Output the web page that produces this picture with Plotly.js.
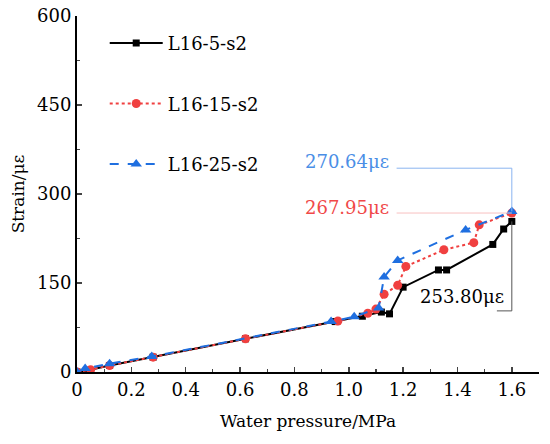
<!DOCTYPE html>
<html>
<head>
<meta charset="utf-8">
<script src="https://cdn.plot.ly/plotly-3.0.1.min.js"></script>
<style>html,body{margin:0;padding:0;background:#fff;}#chart{width:550px;height:444px;}</style>
</head>
<body>
<div id="chart"></div>
<script>
var seriesNames = ["L16-5-s2", "L16-15-s2", "L16-25-s2"];

var pressure5 = [0, 0.04, 0.12, 0.28, 0.62, 0.95, 1.05, 1.12, 1.15, 1.20, 1.33, 1.36, 1.53, 1.57, 1.60];
var strain5   = [0, 3, 11, 25, 56, 85, 94, 101, 98, 143, 172, 172, 215, 241, 253.80];

var pressure15 = [0, 0.05, 0.12, 0.28, 0.62, 0.96, 1.07, 1.10, 1.13, 1.18, 1.21, 1.35, 1.46, 1.48, 1.60];
var strain15   = [0, 4, 11, 25, 56, 86, 99, 106, 131, 146, 178, 206, 218, 248, 267.95];

var pressure25 = [0, 0.03, 0.12, 0.275, 0.935, 1.02, 1.11, 1.13, 1.18, 1.43, 1.60];
var strain25   = [0, 6, 14, 26, 85, 93, 108, 160, 188, 239.5, 270.64];

var xTicks = [0, 0.2, 0.4, 0.6, 0.8, 1.0, 1.2, 1.4, 1.6];
var xTickLabels = ["0", "0.2", "0.4", "0.6", "0.8", "1.0", "1.2", "1.4", "1.6"];
var yTicks = [0, 150, 300, 450, 600];

var peakLabels = ["253.80με", "267.95με", "270.64με"];

var font = "DejaVu Serif";
var fs = 18;
var cBlack = "#000000", cRed = "#f04040", cBlue = "#1f6fe0";

var traces = [
  {x: pressure5, y: strain5, name: seriesNames[0], mode: "lines+markers", legendgroup: "a",
   line: {color: cBlack, width: 2, dash: "solid"}, marker: {symbol: "square", size: 7, color: cBlack}},
  {x: pressure15, y: strain15, name: seriesNames[1], mode: "lines+markers", legendgroup: "b",
   line: {color: cRed, width: 2, dash: "dot"}, marker: {symbol: "circle", size: 9, color: cRed}},
  {x: pressure25, y: strain25, name: seriesNames[2], mode: "lines+markers", legendgroup: "c",
   line: {color: cBlue, width: 2, dash: "dash"}, marker: {symbol: "triangle-up", size: 10, color: cBlue}}
];

var last = function(a){ return a[a.length-1]; };
var xEnd = last(pressure25);
var leaderX = 1.176;

var shapes = [
  {type: "line", x0: leaderX, x1: xEnd, y0: 343.5, y1: 343.5, line: {color: "#8ab4f0", width: 1}},
  {type: "line", x0: xEnd, x1: xEnd, y0: 343.5, y1: last(strain25), line: {color: "#8ab4f0", width: 1}},
  {type: "line", x0: leaderX, x1: last(pressure15), y0: last(strain15), y1: last(strain15), line: {color: "#f8c0c0", width: 1}},
  {type: "line", x0: last(pressure5), x1: last(pressure5), y0: last(strain5), y1: 103, line: {color: "#555555", width: 1}},
  {type: "line", x0: 1.545, x1: last(pressure5), y0: 103, y1: 103, line: {color: "#555555", width: 1}}
];

var annotations = [
  {x: 1.155, y: 354.6, xref: "x", yref: "y", text: peakLabels[2], showarrow: false, xanchor: "right", yanchor: "middle",
   font: {family: font, size: fs, color: "#4a8ee6"}},
  {x: 1.155, y: 277.7, xref: "x", yref: "y", text: peakLabels[1], showarrow: false, xanchor: "right", yanchor: "middle",
   font: {family: font, size: fs, color: "#f04848"}},
  {x: 1.418, y: 126.5, xref: "x", yref: "y", text: peakLabels[0], showarrow: false, xanchor: "center", yanchor: "middle",
   font: {family: font, size: fs, color: "#000000"}}
];

var layout = {
  width: 550, height: 444,
  margin: {l: 77, r: 11, t: 16, b: 72},
  paper_bgcolor: "#fff", plot_bgcolor: "#fff",
  font: {family: font, size: fs, color: "#000"},
  showlegend: true,
  legend: {x: 0.06, y: 0.975, xanchor: "left", yanchor: "top", bgcolor: "rgba(0,0,0,0)",
           font: {family: font, size: fs, color: "#000"}, tracegroupgap: 34, itemwidth: 53, traceorder: "grouped"},
  xaxis: {range: [0, 1.7], tickvals: xTicks, ticktext: xTickLabels, ticks: "inside", ticklen: 5, tickwidth: 1.5,
          showline: true, linecolor: "#000", linewidth: 2, showgrid: false, zeroline: false, mirror: false,
          minor: {dtick: 0.1, ticks: "inside", ticklen: 3, tickwidth: 1.2, showgrid: false},
          tickfont: {family: font, size: fs},
          title: {text: "Water pressure/MPa", font: {family: font, size: 17}, standoff: 17}},
  yaxis: {range: [0, 600], tickvals: yTicks, ticks: "inside", ticklen: 5, tickwidth: 1.5,
          showline: true, linecolor: "#000", linewidth: 2, showgrid: false, zeroline: false,
          minor: {dtick: 75, ticks: "inside", ticklen: 3, tickwidth: 1.2, showgrid: false},
          tickfont: {family: font, size: fs},
          title: {text: "Strain/με", font: {family: font, size: 17}, standoff: 8}},
  shapes: shapes,
  annotations: annotations
};

Plotly.newPlot("chart", traces, layout, {displayModeBar: false, staticPlot: true});
</script>
</body>
</html>
